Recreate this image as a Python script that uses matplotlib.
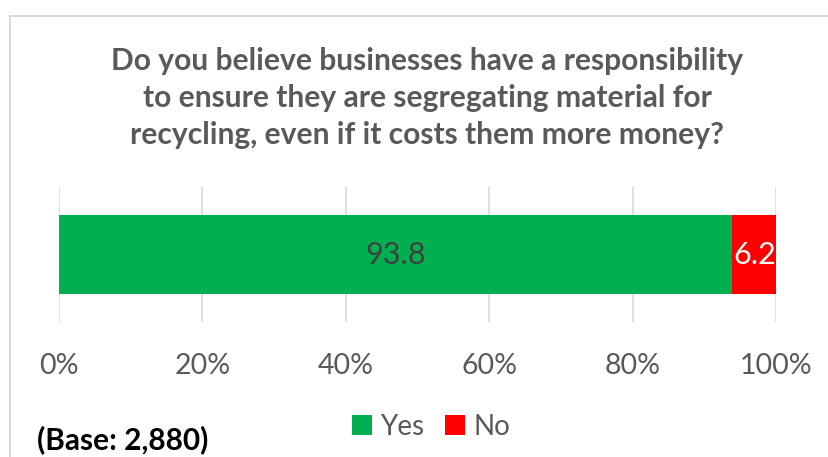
import matplotlib.pyplot as plt
from matplotlib.patches import Rectangle

categories = ['Q']
yes_vals = [93.8]
no_vals = [6.2]
series_names = ['Yes', 'No']
tick_vals = [0, 20, 40, 60, 80, 100]
tick_labels = ['0%', '20%', '40%', '60%', '80%', '100%']

plt.rcParams['font.family'] = ['Lato', 'DejaVu Sans']
grey = '#595959'

fig = plt.figure(figsize=(8.29, 4.57), dpi=100)
ax = fig.add_axes([59/829, 135/457, (776.5-59)/829, 135/457])

b1 = ax.barh(categories, yes_vals, height=0.58, color='#00B050', label=series_names[0])
b2 = ax.barh(categories, no_vals, left=yes_vals, height=0.58, color='#FF0000', label=series_names[1])
ax.bar_label(b1, labels=[f'{v:.1f}' for v in yes_vals], label_type='center', color='#404040', fontsize=22)
ax.bar_label(b2, labels=[f'{v:.1f}' for v in no_vals], label_type='center', color='white', fontsize=22)

ax.set_xlim(0, 100)
ax.set_ylim(-0.5, 0.5)
ax.set_xticks(tick_vals)
ax.set_xticklabels(tick_labels, fontsize=20.5, color=grey)
ax.tick_params(axis='x', length=0, pad=22)
ax.set_yticks([])
ax.grid(axis='x', color='#d9d9d9', linewidth=1.2)
ax.set_axisbelow(True)
for s in ax.spines.values():
    s.set_visible(False)

fig.text(427/829, 1 - 98/457, 'Do you believe businesses have a responsibility\nto ensure they are segregating material for\nrecycling, even if it costs them more money?',
         ha='center', va='center', fontsize=21.6, fontweight='bold', color=grey, linespacing=1.4)

fig.legend(loc='center', bbox_to_anchor=(431/829, 1 - 427/457), ncol=2, frameon=False,
           fontsize=20, labelcolor=grey, handlelength=0.72, handleheight=0.72, handletextpad=0.3, columnspacing=0.75)

fig.text(37/829, 1 - 440/457, '(Base: 2,880)', ha='left', va='center', fontsize=21.5, fontweight='bold', color='black')

fig.patches.append(Rectangle((10/829, -0.1), 1.2, 1.1 - 16/457, transform=fig.transFigure,
                             fill=False, edgecolor='#d9d9d9', linewidth=1.5))

fig.savefig('out.png', dpi=100)
